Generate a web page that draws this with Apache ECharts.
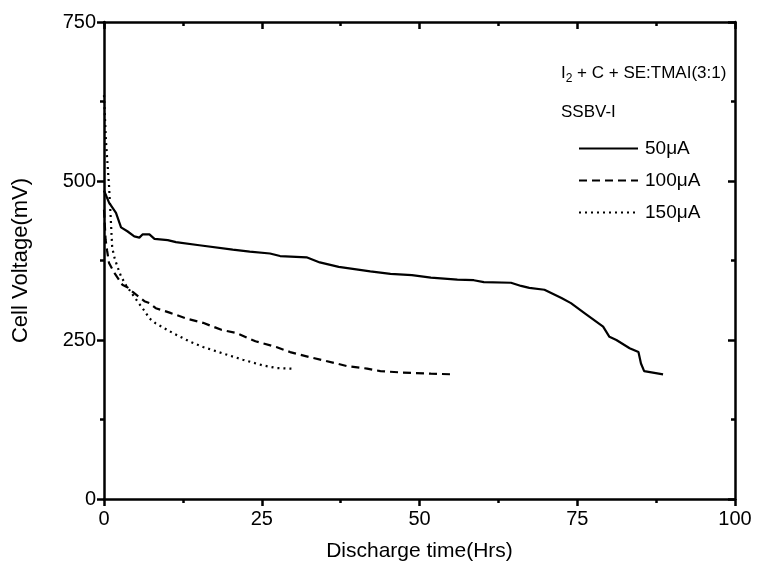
<!DOCTYPE html>
<html>
<head>
<meta charset="utf-8">
<script src="https://cdn.jsdelivr.net/npm/echarts@6/dist/echarts.min.js"></script>
<style>
html,body{margin:0;padding:0;background:#fff;}
#chart{width:757px;height:568px;}
</style>
</head>
<body>
<div id="chart"></div>
<script>
// ---- Data ----
var seriesNames = ['50\u03bcA', '100\u03bcA', '150\u03bcA'];
var xTicks = [0, 25, 50, 75, 100];
var yTicks = [0, 250, 500, 750];

// [Discharge time (Hrs), Cell voltage (mV)]
var data50 = [[0,485],[0.8,466],[1.9,450],[2.7,427],[3.7,421],[4.8,413],[5.6,411],[6.1,416],[7.2,416],[8.0,409],[10.1,407],[11.4,404],[15.1,399],[20.4,392],[23.1,389],[26.3,386],[27.9,382],[32.1,380],[34.2,372],[37.2,365],[42.2,358],[45.4,354],[48.8,352],[51.8,348],[56.0,345],[58.6,344],[60.2,341],[64.5,340],[66.1,335],[67.4,332],[69.8,329],[72.5,316],[74.0,308],[76.2,292],[79.1,271],[80.1,255],[81.2,250],[83.3,237],[84.7,231],[85.1,213],[85.6,201],[88.6,196]];
var data100 = [[0,455],[0.25,408],[0.5,390],[0.8,371],[1.6,356],[2.9,337],[3.7,333],[4.5,326],[6.4,311],[7.2,308],[8.2,300],[9.8,295],[10.4,293],[13.3,283],[15.7,277],[18.6,266],[21.0,261],[22.6,254],[24.0,248],[27.3,239],[29.5,231],[32.6,223],[34.8,218],[38.5,209],[41.7,205],[43.8,201],[47.0,199],[51.8,197],[55.5,196]];
var data150 = [[0,635],[0.15,600],[0.3,565],[0.5,535],[0.8,492],[1.05,445],[1.3,395],[1.7,378],[2.1,366],[2.7,350],[3.5,336],[4.5,322],[5.5,308],[6.4,296],[7.2,284],[8.2,276],[9.3,270],[10.9,261],[12.5,253],[13.5,248],[15.7,239],[18.8,229],[22.0,219],[25.2,210],[27.3,206],[29.7,205]];

var FONT = '"Liberation Sans", Arial, Helvetica, sans-serif';
var chart = echarts.init(document.getElementById('chart'), null, {renderer: 'canvas'});

function axisBase(showLabel, inside) {
  return {
    type: 'value',
    axisLine: {show: true, onZero: false, lineStyle: {color: '#000', width: 2.5}},
    axisTick: {show: true, inside: inside, length: 7, lineStyle: {color: '#000', width: 2.5}},
    minorTick: {show: true, splitNumber: 2, length: 4, lineStyle: {color: '#000', width: 2.5}},
    splitLine: {show: false},
    minorSplitLine: {show: false},
    axisLabel: {show: showLabel, color: '#000', fontSize: 20, fontFamily: FONT}
  };
}

var xBottom = Object.assign(axisBase(true, false), {
  position: 'bottom', min: xTicks[0], max: xTicks[xTicks.length-1], interval: 25,
  name: 'Discharge time(Hrs)', nameLocation: 'middle', nameGap: 42,
  nameTextStyle: {color: '#000', fontSize: 21, fontFamily: FONT}
});
xBottom.axisLabel.margin = 10;
var xTop = Object.assign(axisBase(false, true), {
  position: 'top', min: xTicks[0], max: xTicks[xTicks.length-1], interval: 25
});
var yLeft = Object.assign(axisBase(true, false), {
  position: 'left', min: yTicks[0], max: yTicks[yTicks.length-1], interval: 250,
  name: 'Cell Voltage(mV)', nameLocation: 'middle', nameGap: 72, nameRotate: 90,
  nameTextStyle: {color: '#000', fontSize: 22, fontFamily: FONT}
});
yLeft.axisLabel.margin = 8;
var yRight = Object.assign(axisBase(false, true), {
  position: 'right', min: yTicks[0], max: yTicks[yTicks.length-1], interval: 250
});

var styles = ['solid', [8, 5], [2, 4]];
var datasets = [data50, data100, data150];
var series = datasets.map(function (d, i) {
  return {
    name: seriesNames[i], type: 'line', data: d, xAxisIndex: 0, yAxisIndex: 0,
    symbol: 'none', showSymbol: false, smooth: false, animation: false,
    lineStyle: {color: '#000', width: 2.2, type: styles[i]},
    itemStyle: {color: '#000'}
  };
});

chart.setOption({
  backgroundColor: '#fff',
  animation: false,
  grid: {left: 104, right: 22, top: 22, bottom: 69, containLabel: false},
  xAxis: [xBottom, xTop],
  yAxis: [yLeft, yRight],
  title: [{
    text: '{a|I}{s|2}{a| + C + SE:TMAI(3:1)}\n{a|SSBV-I}',
    left: 556, top: 49,
    textStyle: {
      fontFamily: FONT, color: '#000', fontWeight: 'normal',
      rich: {
        a: {fontSize: 17, fontFamily: FONT, color: '#000', fontWeight: 'normal', lineHeight: 39},
        s: {fontSize: 12, fontFamily: FONT, color: '#000', fontWeight: 'normal', lineHeight: 39, padding: [11, 0, 0, 0]}
      }
    }
  }],
  legend: {
    orient: 'vertical', left: 573, top: 134, itemWidth: 59, itemHeight: 14, itemGap: 13,
    itemStyle: {opacity: 0},
    textStyle: {color: '#000', fontSize: 19, fontFamily: FONT, padding: [0, 0, 0, 2]},
    data: seriesNames
  },
  series: series
});
</script>
</body>
</html>
